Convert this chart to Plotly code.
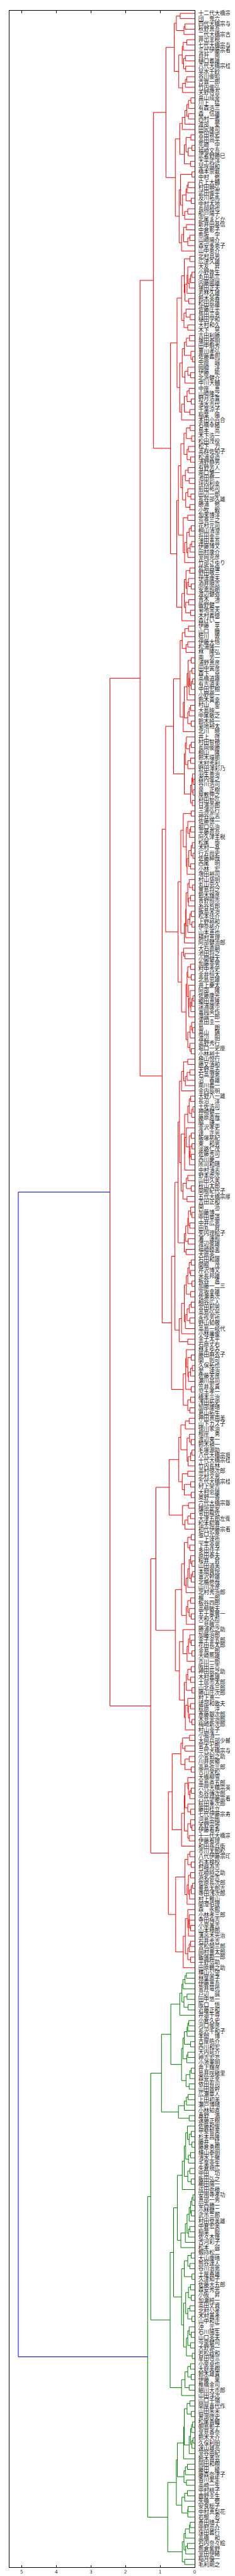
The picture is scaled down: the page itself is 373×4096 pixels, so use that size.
import sys
import plotly.graph_objects as go

sys.setrecursionlimit(10000)

# ---------------- data ----------------
leaf_labels = [
    "十二代大橋宗金", "団　鬼六", "四代大橋宗与", "秋野真吾", "二代大橋宗古", "井出主税", "七代大橋宗与", "三代伊藤宗看",
    "貞升　南", "樋口義雄", "八代大橋宗桂", "早水千紗", "谷川俊昭", "古賀一郎", "竹内俊弘", "天野啓吾",
    "畠山成幸", "川上　猛", "有森浩三", "森　信雄", "西村一義", "渡部　愛", "田尻隆司", "宮田敦史",
    "高田尚平", "先崎　学", "福崎文吾", "武者野勝巳", "大平武洋", "早咲誠和", "橋本崇載", "中村　修",
    "片上大輔", "村田顕弘", "武田俊平", "及川拓馬", "中村太地", "長岡裕也", "船戸陽子", "北尾まどか",
    "新井田基信", "中倉彰子", "熊坂　学", "山崎陽介", "森安多恵子", "山中恵介", "北村昌男", "広津久雄",
    "大友　昇", "小野敦生", "丸田祐三", "内藤國雄", "塚田正夫", "若林久雄", "鈴木英春", "松田辰雄",
    "佐藤庄平", "角田三男", "樋田学和", "大村和久", "木下　晃", "吉田利勝", "塚田泰明", "田中魁秀",
    "豊川孝弘", "佐藤義則", "中原　誠", "岡崎　洋", "伊藤　能", "北浜健介", "中川大輔", "中座　真",
    "山崎隆之", "野月浩貴", "清水市代", "千葉涼子", "稲葉　陽", "本田小百合", "石橋幸緒", "島本　亮",
    "木下浩一", "松田茂役", "松下　力", "高群佐知子", "松浦卓造", "清野静男", "有野芳人", "南口繁一",
    "池田修一", "坪内利幸", "前田祐司", "田辺一郎", "長谷部久雄", "勝浦　修", "小牧　毅", "加来博洋",
    "荒巻三之", "花村元司", "桐山清澄", "升田幸三", "澤田真吾", "伊藤博文", "田村康介", "室岡克彦",
    "竹部さゆり", "佐伯昌優", "野田敬三", "伊達康夫", "酒井順吉", "安恵照剛", "渡辺健弥", "青木　清",
    "飯野健二", "菊地常夫", "木村義徳", "森けい二", "伊藤　享", "山口　瞳", "蛭川　敦", "伊藤大悟",
    "松浦隆一", "林　隆弘", "南　芳一", "浦野真彦", "田中寅彦", "森下　卓", "高橋道雄", "有吉道夫",
    "中田宏樹", "小野修一", "鈴木貴幸", "村山　聖", "大島映二", "中尾敏之", "鈴木純一", "菊地裕太",
    "北川　暁", "井上　啓", "村田智穂", "長岡俊勝", "桐山　隆", "鈴木環那", "木村秀利", "野田澤彩乃",
    "羽生善治", "森内俊之", "谷川浩司", "泉　正樹", "屋敷伸之", "村田智弘", "日浦市郎", "三浦弘行",
    "神谷広志", "佐藤慎一", "堀口弘治", "平藤眞吾", "阿久津主税", "松尾　歩", "木村一基", "行方尚史",
    "佐藤紳哉", "西尾　明", "小林　宏", "増田裕司", "村山慈明", "丸山忠久", "豊島将之", "鈴木輝彦",
    "青野照市", "糸谷哲郎", "飯島栄治", "松本佳介", "上野裕和", "伊奈祐介", "山本真也", "植村真理",
    "阿部健治郎", "大石直嗣", "池田将之", "小関健太", "加藤幸男", "村中秀史", "金井恒太", "北島忠雄",
    "井上慶太", "阿部　隆", "佐藤康光", "郷田真隆", "深浦康市", "富岡英作", "滝誠一郎", "真田圭一",
    "島　　朗", "畠山　鎮", "渡辺　明", "高野秀行", "堀口一史座", "小林裕士", "植山悦行", "勝又清和",
    "天野高志", "石高澄恵", "沼　春雄", "南川義一", "金内辰明", "大野八一雄", "長沼　洋", "土佐浩司",
    "神崎健二", "藤原直哉", "脇　謙二", "金沢孝史", "達　正光", "飯塚祐紀", "東　和男", "淡路仁茂",
    "佐藤秀司", "西川慶二", "所司和晴", "中村清志", "野本虎次", "山田久美", "秋山太郎", "関根紀代子",
    "五代大橋宗順", "吉田正和", "関　　浩", "加藤博二", "中田章道", "中井広恵", "田丸　昇", "矢内理絵子",
    "灘　蓮照", "渡辺俊雄", "福崎睦美", "大原英二", "石田和雄", "関根　茂", "芹沢博文", "米長邦雄",
    "板谷　進", "加藤一二三", "宮坂幸雄", "佐瀬勇次", "桐谷広人", "宮田利男", "高島弘光", "永作芳也",
    "野山知敬", "高島一岐代", "小林庸俊", "金子太平", "石原丈右", "林まゆみ", "藤田麻衣子", "関　則可",
    "久保拓也", "愛　達治", "佐藤天彦", "瀬川晶司", "笠井友貴", "児玉孝一", "橋本三治", "浅田拓史",
    "加部康晴", "葛山拓生", "神田真由美", "山下カズ子", "徳川家治", "根岸　勇", "渡辺東一", "鈴木禎一",
    "毛塚源助", "八代大橋宗珉", "十代大橋宗桂", "竹内長林", "高村徳次郎", "北村文男", "九代大橋宗桂", "村上栄吉",
    "大村忠雄", "奥野一香", "六代大橋宗銀", "檜垣是安", "菅田龍佐", "大津五郎左衛門", "松本紹尊", "初代伊藤宗看",
    "坂口允彦", "二上達也", "下平幸男", "多田佳子", "原田泰夫", "桜井　昇", "山田道美", "本間爽悦",
    "富沢幹雄", "北楯修哉", "山川次彦", "北村秀治郎", "梶　一郎", "板谷四郎", "高柳敏夫", "五十嵐豊一",
    "大和久彪", "二見敬三", "勝浦松之助", "加藤治郎", "金子金五郎", "花田長太郎", "金易二郎", "大崎熊雄",
    "市川一郎", "阪田三吉", "神田辰之助", "木村義雄", "土居市太郎", "山北孫三郎", "勝山庄次郎", "村上真一",
    "建部和歌夫", "萩原　淳", "斎藤銀次郎", "木見金治郎", "梅崎新次郎", "村山幸子", "小堀清一", "大岡兵部少輔",
    "菅太七郎", "三代大橋宗与", "小菅剣之助", "川井房郷", "高島弥三郎", "吉川栄松", "大橋柳雪", "高島直五郎",
    "六代大橋宗英", "丸谷傳次郎", "六代伊藤宗看", "萩田重次郎", "藤田桂立", "七代伊藤宗寿", "河島宗臨", "天野宗歩",
    "伊藤看寿", "十一代大橋宗桂", "伊藤看理", "和田孫兵衛", "市川太郎松", "八代伊藤宗印", "石本検校", "村越為吉",
    "花崎時之助", "浜名弥吉", "佐原長次郎", "豊島太郎吉", "寺田浅次郎", "村上稚山", "関澄伯理", "森　永館",
    "小林孝三郎", "寺田梅吉", "小泉兼吉", "山本樟郎", "溝呂木光治", "石井秀吉", "宮松関三郎", "岡村豊太郎",
    "飯塚勘一郎", "平野信助", "田原鶴之助", "横山公望", "林葉直子", "伊藤真吾", "菅井竜也", "戸辺　誠",
    "田中悠一", "阪口　悟", "近藤正和", "井道千尋", "小倉久史", "河口俊彦", "長沢千和子", "本間　博",
    "古屋皓介", "西川和宏", "大内延介", "神吉宏充", "小池重明", "井上輝彦", "島井咲緒里", "森安正幸",
    "依田有司", "山田敦幹", "広瀬章人", "上田初美", "瀬戸博晴", "小林知直", "嘉野　満", "遠藤正樹",
    "佐藤和俊", "甲斐智美", "杉本昌隆", "藤井　猛", "藤倉勇樹", "横山泰明", "清水上徹", "千葉幸生",
    "矢倉規広", "中田　功", "飯田弘之", "櫛田陽一", "成田弥穂", "安用寺孝功", "真部一男", "安西勝一",
    "小林健二", "武市三郎", "村田登美雄", "中倉宏美", "稲葉　聡", "佐々木慎", "古河彩子", "松本　誠",
    "剱持松二", "大山康晴", "熊谷達人", "谷川治恵", "土屋春雄", "久津知子", "佐藤大五郎", "森安秀光",
    "小阪　昇", "加瀬純一", "高田丈資", "北村公孝", "木村嘉孝", "山中和正", "沖　元二", "石川陽生",
    "山口英夫", "今泉健司", "大野源一", "若松政和", "星田啓三", "小泉卓也", "大庭美樹", "鈴木雄貴",
    "伊藤　果", "椎橋金司", "細川大市郎", "山田洋次", "山口千嶺", "関屋喜代作", "山田朱未", "鷲渕啓史",
    "松尾香織", "朝島彰子", "里見香奈", "鈴木大介", "久保利明", "遠山雄亮", "室谷由紀", "鈴木香芸",
    "岡田和樹", "藤田　綾", "藤森奈津子", "香川愛生", "高崎一生", "中村桃子", "鹿野圭生", "矢橋　修",
    "安食総子", "中村真梨花", "岩根　忍", "斎田晴子", "中村亮介", "窪田義行", "高橋　和", "石内奈々絵",
    "熊倉紫野", "室田伊緒", "稲月優一", "毛利剛之",
]

# merge height between each pair of neighbouring leaves
merge_heights = [
    .42, .53, .28, .31, .59, .23, .33, .36, .27, .32,
    .26, .46, .23, .27, .35, .83, .11, .18, .23, .18,
    .28, .36, .43, .11, .25, .08, .19, .30, .12, .56,
    .08, .41, .19, .22, .25, .10, .35, .20, .29, .45,
    .24, .32, .14, .20, .38, 1.19,
    .14, .30, .20, .08, .12, .16, .22, .28, .17, .38,
    .25, .13, .31, .20, .51, .15, .24, .30, .11, .06,
    .36, .20, .12, .28, .43, .16, .22, .10, .30, .14, .38,
    .70,
    .13, .24, .09, .31, .18, .22, .12, .40, .19, .27,
    .16, .35, .20, .11, .26, .14, .47, .20, .33, .10,
    .16, .23, .09, .13, .20, .29, .52, .14, .25, .18,
    .10, .22, .30, .17, .26, .12, .37,
    1.58,
    .18, .28, .36, .20, .25, .42, .10, .19, .08, .14,
    .06, .10, .16, .22, .30, .12, .16, .20, .10, .33,
    .61, .24, .10, .15, .27, .12, .20, .30, .06, .04,
    .08, .05, .12, .07,
    .84,
    .10, .33, .20, .12, .15, .24, .07, .10, .05, .17,
    .12, .22, .40, .16, .06, .20, .12, .18, .25, .10,
    .14, .08, .20, .26, .30, .48, .32, .28, .38, .12,
    .20, .10, .22, .18, .13, .05, .08, .11, .17, .25,
    .09, .06, .13, .20, .14, .10,
    .94,
    .20, .32, .14, .22, .27, .38, .44, .12, .16, .05,
    .09, .20, .29, .24, .10, .16, .08, .13, .10, .15,
    .29, .39, .20, .24, .10, .34, .22, .48, .12, .08,
    .18, .14, .20, .26, .19, .30, .25, .57, .10, .16,
    .12, .20, .08, .24, .12, .30, .10, .16, .22, .14,
    .27, .38, .45, .20, .67,
    .24, .10, .20, .07, .12, .18, .26, .10, .33, .12, .20, .14,
    2.45,
    .16, .27, .40, .15, .10, .22, .08, .12, .19, .46,
    .20, .36, .12, .30, .10,
    .74,
    .18, .35, .12, .20, .28,
    1.12,
    .10, .20, .14, .30, .12, .08, .16, .06, .10, .20,
    .25, .38, .12, .20, .16, .10, .24,
    .56,
    .34, .14, .10, .18, .08, .22, .44, .10, .20, .12,
    .24, .08, .30, .20, .12, .18, .15, .08, .27,
    1.27,
    .15, .35, .28, .40, .16, .28, .10,
    .65,
    .20, .18, .10, .14, .28, .20, .12, .30, .12, .08, .20, .16, .38,
    .76,
    .14, .20, .10, .28, .12, .18, .06, .10, .15, .22,
    .55,
    .20, .16, .15, .12, .18, .27, .12, .16, .20, .12,
    .33,
    5.10,
    .24, .28, .34, .37, .22, .31, .19, .43,
    .69,
    .17, .20, .22, .30, .12, .34, .20, .23, .38, .10, .14, .25, .16,
    .96,
    .19, .24, .30, .47, .16,
    1.27,
    .21, .10, .16, .08, .26, .12, .18, .30, .14, .20,
    .10, .36, .50, .05, .08, .12, .10, .16, .22, .14,
    .18, .27, .40, .61, .10, .20, .14, .30, .08, .38,
    .12, .18, .10, .26, .14, .20, .08, .32, .16, .10,
    .20, .12, .24, .07,
    .71,
    .12, .20, .10, .28, .16, .38,
    1.36,
    .14, .22, .10, .30, .06, .09, .12, .05, .08, .16,
    .32, .50, .21, .27, .31, .24,
    .53,
    .21, .29, .37, .19, .20,
    .78,
    .13, .15, .27, .31, .21, .26, .36, .29,
]

cluster_colors = ["#ff0000", "#008000"]   # clusters from top to bottom
above_threshold_color = "#0000ff"
color_threshold = 3.57
x_tick_values = [0, 1, 2, 3, 4, 5]

# ---------------- build dendrogram links ----------------
n = len(leaf_labels)
assert len(merge_heights) == n - 1, (len(merge_heights), n)

segments = {}
color_iter = iter(cluster_colors)


def add_link(color, xs, ys):
    sx, sy = segments.setdefault(color, ([], []))
    sx.extend(xs + [None])
    sy.extend(ys + [None])


def build(a, b, color):
    """return (y position, height) of the node covering leaves a..b"""
    if a == b:
        return 5 + 10 * a, 0.0
    k = max(range(a, b), key=lambda i: merge_heights[i])
    h = merge_heights[k]
    if h >= color_threshold:
        link_color, child_color = above_threshold_color, None
    else:
        link_color = color if color is not None else next(color_iter)
        child_color = link_color
    y1, h1 = build(a, k, child_color)
    y2, h2 = build(k + 1, b, child_color)
    add_link(link_color, [h1, h, h, h2], [y1, y1, y2, y2])
    return (y1 + y2) / 2.0, h


build(0, n - 1, None)

fig = go.Figure()
for col, (xs, ys) in segments.items():
    fig.add_trace(go.Scatter(x=xs, y=ys, mode="lines",
                             line=dict(color=col, width=1),
                             hoverinfo="skip", showlegend=False))

xmax = max(merge_heights) * 1.05
leaf_positions = [5 + 10 * i for i in range(n)]

fig.update_layout(
    width=373, height=4096,
    margin=dict(l=6, r=69, t=6, b=22),
    paper_bgcolor="white", plot_bgcolor="white",
    font=dict(family="Noto Sans CJK JP, DejaVu Sans, sans-serif"),
    showlegend=False,
)
fig.update_xaxes(
    range=[xmax, 0], tickmode="array", tickvals=x_tick_values,
    ticktext=[str(v) for v in x_tick_values],
    ticks="inside", ticklen=3.5, tickwidth=1, tickcolor="black",
    showline=True, linecolor="black", linewidth=1, mirror="allticks",
    showgrid=False, zeroline=False,
    tickfont=dict(size=7.5, color="#333333", family="DejaVu Sans, sans-serif"),
)
fig.update_yaxes(
    range=[10 * n, 0], tickmode="array", tickvals=leaf_positions,
    ticktext=leaf_labels, side="right", ticks="",
    showline=True, linecolor="black", linewidth=1, mirror=True,
    showgrid=False, zeroline=False, ticklabelstandoff=3,
    tickfont=dict(size=8.6, color="#222222", family="Noto Sans CJK JP"),
)

fig.write_html("out.html")
